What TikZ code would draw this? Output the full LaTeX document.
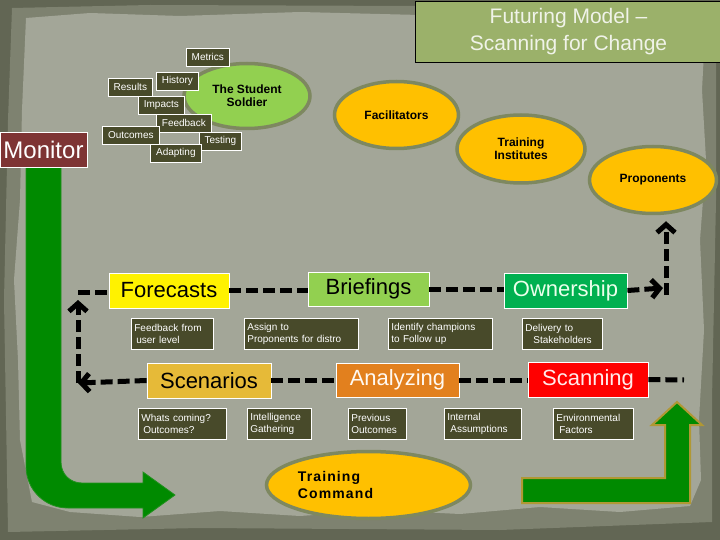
\documentclass[tikz,border=0pt]{standalone}
\usepackage{fontspec}
\setmainfont{Liberation Sans}
\usetikzlibrary{arrows.meta, positioning, shapes.geometric}

\definecolor{frame}{RGB}{98,102,84}
\definecolor{rim}{RGB}{126,130,112}
\definecolor{paper}{RGB}{163,166,152}
\definecolor{notecol}{RGB}{72,74,42}
\definecolor{monitorcol}{RGB}{126,52,52}
\definecolor{titlecol}{RGB}{155,177,106}
\definecolor{limecol}{RGB}{146,208,80}
\definecolor{goldcol}{RGB}{255,192,0}
\definecolor{rimcol}{RGB}{126,136,96}
\definecolor{owncol}{RGB}{0,176,80}
\definecolor{scencol}{RGB}{230,186,56}
\definecolor{anacol}{RGB}{226,128,30}
\definecolor{arrowgreen}{RGB}{0,138,0}
\definecolor{arrowrim}{RGB}{176,152,52}

\tikzset{
  note/.style={draw=white, fill=notecol, text=white, line width=0.7pt,
    font=\fontsize{10}{12.5}\selectfont, inner xsep=3pt, inner ysep=2pt,
    anchor=north west, minimum height=18pt, align=left},
  pair/.style={note, minimum height=31pt},
  tag/.style={draw=white, line width=0.8pt, minimum height=35pt, inner sep=0pt,
    font=\fontsize{22}{26}\selectfont},
  blob/.style={ellipse, draw=rimcol, line width=3.5pt, inner sep=0pt, align=center,
    font=\bfseries\fontsize{12}{13}\selectfont},
  link/.style={line width=5pt, dash pattern=on 12pt off 5pt},
  bigarrow/.style={fill=arrowgreen}
}

\begin{document}
\begin{tikzpicture}[x=1pt, y=-1pt, >={Straight Barb[length=8pt, width=18pt]}]
\useasboundingbox (0,0) rectangle (720,540);

% torn paper backdrop
\fill[frame] (0,0) rectangle (720,540);
\fill[rim] (12,8) -- (150,5) -- (420,6) -- (716,4) -- (716,200) -- (712,400) -- (712,522)
  -- (500,530) -- (200,528) -- (8,532) -- (4,300) -- (8,120) -- cycle;
\fill[paper] (26,18) -- (90,13) -- (180,16) -- (300,12) -- (420,15) -- (560,12) -- (706,14)
  -- (702,90) -- (706,160) -- (700,240) -- (704,330) -- (699,420) -- (701,480) -- (690,506)
  -- (620,512) -- (540,507) -- (460,514) -- (380,510) -- (300,516) -- (220,511) -- (140,517)
  -- (70,512) -- (32,502) -- (20,440) -- (18,360) -- (14,280) -- (20,200) -- (22,110) -- cycle;

% green flow arrows
\fill[bigarrow, draw=arrowgreen!80!paper, line width=0.8pt]
  (26,167) -- (26,466) .. controls (26,490) and (45,508) .. (68,508) -- (143,508) -- (143,518)
  -- (175,495) -- (143,472) -- (143,483) -- (82,483) .. controls (70,483) and (61,474) .. (61,462)
  -- (61,167) -- cycle;
\fill[bigarrow, draw=arrowrim, line width=2pt]
  (522,478) -- (665,478) -- (665,425) -- (652,425) -- (677,402) -- (702,425) -- (690,425)
  -- (690,503) -- (522,503) -- cycle;

% title
\node[draw=black, fill=titlecol, text=white!85!titlecol, minimum width=307pt, minimum height=61pt,
  align=center, font=\fontsize{21}{27}\selectfont] (title) at (568.5,31.5)
  {Futuring Model --\\Scanning for Change};

% ellipses
\node[blob, fill=limecol, minimum width=126pt, minimum height=65pt] (soldier) at (247,96) {The Student\\Soldier};
\node[blob, fill=goldcol, minimum width=124pt, minimum height=67pt] (facil) at (396.5,115) {Facilitators};
\node[blob, fill=goldcol, minimum width=128pt, minimum height=68pt] (inst) at (521,149) {Training\\Institutes};
\node[blob, fill=goldcol, minimum width=127pt, minimum height=67pt] (prop) at (653,180) {Proponents};
\node[blob, fill=goldcol, minimum width=204pt, minimum height=67pt, align=left,
  font=\bfseries\fontsize{14}{17}\selectfont\addfontfeatures{LetterSpace=8}] (tcmd) at (368.5,485)
  {Training\\Command\hspace*{66pt}};

% student soldier cloud
\node[note, minimum width=43pt] (metrics) at (186,48) {Metrics};
\node[note, minimum width=44pt] (results) at (108,78) {Results};
\node[note, minimum width=42pt] (history) at (156,72) {History};
\node[note, minimum width=46pt] (impacts) at (138,96) {Impacts};
\node[note, minimum width=55pt] (feedback) at (156,114) {Feedback};
\node[note, minimum width=42pt] (testing) at (199,132) {Testing};
\node[note, minimum width=57pt] (outcomes) at (102,126) {Outcomes};
\node[note, minimum width=51pt] (adapting) at (150,144) {Adapting};

\node[draw=white, fill=monitorcol, text=white, minimum width=87pt, minimum height=35pt, inner sep=0pt,
  font=\fontsize{24}{28}\selectfont] (monitor) at (43.5,149.5) {Monitor};

% process boxes
\node[tag, fill=yellow, minimum width=120pt] (forecasts) at (169,290.5) {Forecasts};
\node[tag, fill=limecol, minimum width=121pt, minimum height=34pt] (briefings) at (368.5,289) {Briefings};
\node[tag, fill=owncol, text=green!8, minimum width=123pt] (ownership) at (565.5,290.5) {Ownership};
\node[tag, fill=scencol, minimum width=124pt] (scenarios) at (209,380.5) {Scenarios};
\node[tag, fill=anacol, text=orange!5, minimum width=123pt, minimum height=34pt] (analyzing) at (397.5,380) {Analyzing};
\node[tag, fill=red, text=red!8, minimum width=120pt] (scanning) at (588,379.5) {Scanning};

% notes under the boxes
\node[pair, text width=76pt] (fromuser) at (131,318) {Feedback from\\\hspace*{2pt}user level};
\node[pair, text width=108pt] (assign) at (244,318) {Assign to\\Proponents for distro};
\node[pair, text width=98pt] (champions) at (388,318) {Identify champions\\to Follow up};
\node[pair, text width=74pt] (delivery) at (522,318) {Delivery to\\\hspace*{8pt}Stakeholders};
\node[pair, text width=82pt] (coming) at (138,408) {Whats coming?\\\hspace*{2pt}Outcomes?};
\node[pair, text width=58pt] (intel) at (247,408) {Intelligence\\Gathering};
\node[pair, text width=52pt] (previous) at (348,408) {Previous\\Outcomes};
\node[pair, text width=71pt] (internal) at (444,408) {Internal\\\hspace*{3pt}Assumptions};
\node[pair, text width=74pt] (environ) at (553,408) {Environmental\\\hspace*{3pt}Factors};

% corners of the dashed loop
\coordinate (fcorner) at (78,292);
\coordinate (scorner) at (78,383);
\coordinate (ocorner) at (663,288);
\coordinate (opivot) at (666,295);
\coordinate (sendpt) at (684,380);

\draw[link] (forecasts.east) -- (forecasts.east -| briefings.west);
\draw[link] (briefings.east) -- (briefings.east -| ownership.west);
\draw[link, ->] (ownership.east) -- (ocorner);
\draw[link, ->, shorten >=6pt] (opivot) -- (opivot |- prop.south);
\draw[link] (scenarios.east) -- (scenarios.east -| analyzing.west);
\draw[link] (analyzing.east) -- (analyzing.east -| scanning.west);
\draw[link] (scanning.east) -- (sendpt);
\draw[link, ->] (scenarios.west) -- (scorner);
\draw[link, ->] (scorner) -- (fcorner |- 0,300);
\draw[link] (fcorner) -- (forecasts.west |- fcorner);

\end{tikzpicture}
\end{document}
